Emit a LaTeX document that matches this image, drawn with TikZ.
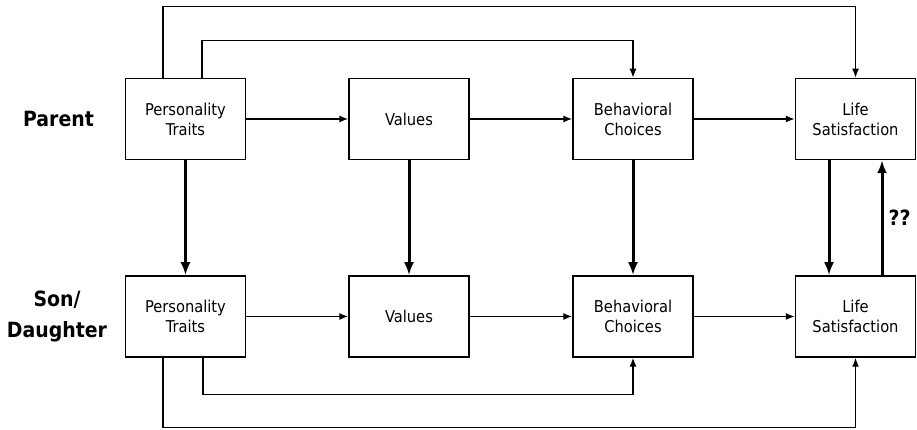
\documentclass[tikz,border=0pt]{standalone}
\usepackage{fontspec}
\setmainfont{DejaVu Sans Condensed}
\usetikzlibrary{arrows.meta}
\tikzstyle{box}=[rectangle, draw, line width = 1.5pt, minimum width = 120pt, minimum height = 81pt, align = center, font = \fontsize{16.3}{20}\selectfont]
\tikzstyle{who}=[align = center, inner sep = 0pt, font = \fontsize{21}{31}\selectfont\bfseries]
\tikzstyle{link}=[line width = 1.3pt, -{Latex[length = 9pt, width = 7pt]}]
\tikzstyle{strong}=[line width = 3pt, -{Latex[length = 13pt, width = 10pt]}]

\begin{document}
\begin{tikzpicture}[x = 1pt, y = 1pt]
\useasboundingbox (0, 0) rectangle (917, 430);
\node (parent) at (58.5, 311) [who] {Parent};
\node (child) at (57, 114) [who] {Son/\\Daughter};
\node (pt1) at (185.5, 311) [box] {Personality\\Traits};
\node (va1) at (409, 311) [box] {Values};
\node (bc1) at (633, 311) [box] {Behavioral\\Choices};
\node (ls1) at (855.5, 311) [box] {Life\\Satisfaction};
\node (pt2) at (185.5, 113.5) [box] {Personality\\Traits};
\node (va2) at (409, 113.5) [box] {Values};
\node (bc2) at (633, 113.5) [box] {Behavioral\\Choices};
\node (ls2) at (855.5, 113.5) [box] {Life\\Satisfaction};
\node (qq) at (899.5, 212.5) [who] {??};
%%%%%%%%%%%%%%%%%%%%%%%
%%%%%%%%%%%%%%%%%%%%%%%
\draw [link] (pt1) to (va1);
\draw [link] (va1) to (bc1);
\draw [link] (bc1) to (ls1);
\draw [link] (pt2) to (va2);
\draw [link] (va2) to (bc2);
\draw [link] (bc2) to (ls2);
\draw [strong] (pt1) to (pt2);
\draw [strong] (va1) to (va2);
\draw [strong] (bc1) to (bc2);
\draw [strong] ([xshift = -26.5pt]ls1.south) to ([xshift = -26.5pt]ls2.north);
\draw [strong] ([xshift = 26.5pt]ls2.north) to ([xshift = 26.5pt]ls1.south);
%\draw (pt1) to (bc1);
\draw [link] ([xshift = -22.5pt]pt1.north) -- ++(0, 71) -| (ls1.north);
\draw [link] ([xshift = 16.5pt]pt1.north) -- ++(0, 37) -| (bc1.north);
\draw [link] ([xshift = 17.5pt]pt2.south) -- ++(0, -36.5) -| (bc2.south);
\draw [link] ([xshift = -22.5pt]pt2.south) -- ++(0, -69.5) -| (ls2.south);
\end{tikzpicture}
\end{document}
